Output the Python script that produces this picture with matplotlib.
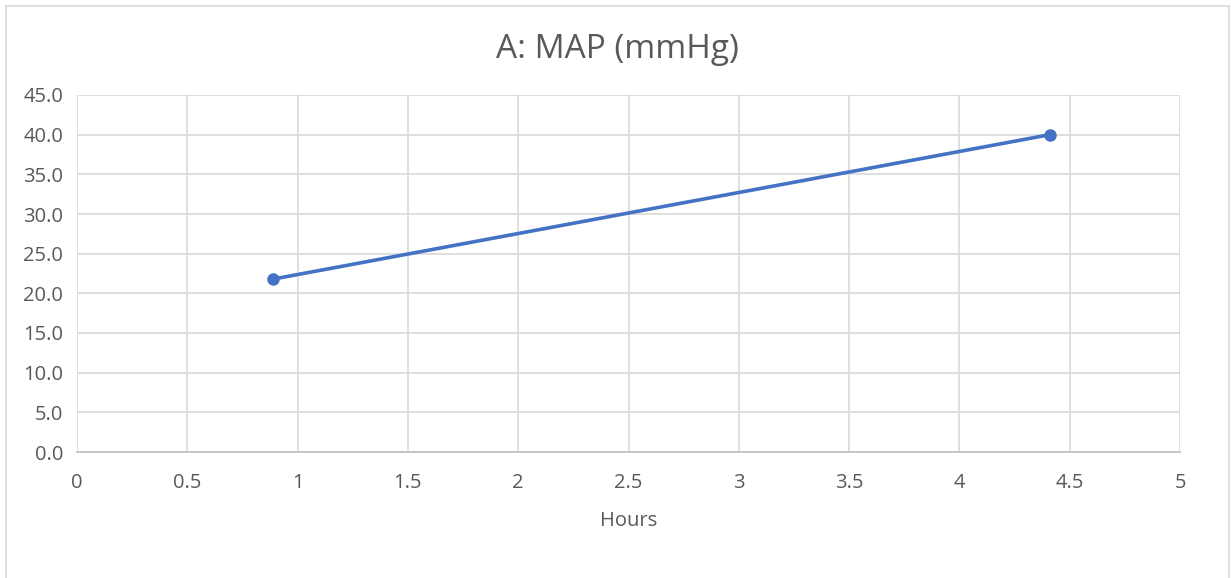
import matplotlib
matplotlib.use("Agg")
import matplotlib.pyplot as plt
from matplotlib.patches import Rectangle

hours = [0.89, 4.41]
map_mmhg = [21.8, 40.0]
x_ticks = [0, 0.5, 1, 1.5, 2, 2.5, 3, 3.5, 4, 4.5, 5]
x_tick_labels = ["0", "0.5", "1", "1.5", "2", "2.5", "3", "3.5", "4", "4.5", "5"]
y_ticks = [0, 5, 10, 15, 20, 25, 30, 35, 40, 45]
y_tick_labels = ["%.1f" % v for v in y_ticks]
title = "A: MAP (mmHg)"
x_label = "Hours"

plt.rcParams['font.family'] = ['Open Sans', 'DejaVu Sans']
text_color = "#595959"
grid_color = "#D9D9D9"

fig = plt.figure(figsize=(12.31, 5.78), dpi=100)
fig.patches.append(Rectangle((6/1231, -0.05), (1229-6)/1231, (578-6)/578 + 0.05,
                             transform=fig.transFigure, fill=False,
                             edgecolor=grid_color, linewidth=1.2))
ax = fig.add_axes([77/1231, 1-452/578, (1180-77)/1231, (452-95)/578])

ax.plot(hours, map_mmhg, color="#4472C4", linewidth=2.6, marker="o",
        markersize=8, zorder=3)

ax.set_xlim(0, 5)
ax.set_ylim(0, 45)
ax.set_xticks(x_ticks)
ax.set_xticklabels(x_tick_labels)
ax.set_yticks(y_ticks)
ax.set_yticklabels(y_tick_labels)
ax.grid(True, color=grid_color, linewidth=1.2)
ax.set_axisbelow(True)
for s in ["top", "right", "left"]:
    ax.spines[s].set_visible(False)
ax.spines["bottom"].set_color("#BFBFBF")
ax.spines["bottom"].set_linewidth(1.2)
ax.tick_params(axis="both", length=0, labelsize=14.5, colors=text_color)
ax.tick_params(axis="x", pad=15)
ax.tick_params(axis="y", pad=10)

ax.set_xlabel(x_label, fontsize=14.5, color=text_color, labelpad=13)
fig.text(0.5015, 1-50/578, title, ha="center", va="center",
         fontsize=24, color=text_color)

fig.savefig("out.png", dpi=100)
